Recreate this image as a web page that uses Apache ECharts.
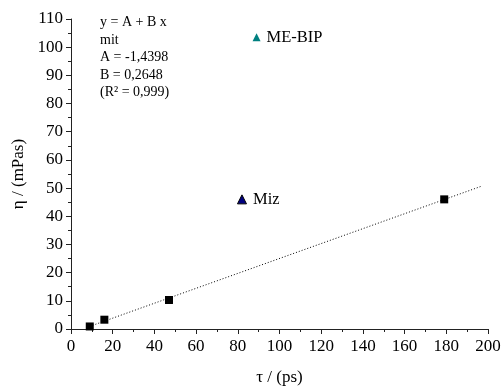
<!DOCTYPE html>
<html><head><meta charset="utf-8">
<script src="https://cdn.jsdelivr.net/npm/echarts@6/dist/echarts.min.js"></script>
<style>html,body{margin:0;padding:0;background:#fff}#c{width:501px;height:387px}</style>
</head><body><div id="c"></div>
<script>
const squarePoints = [[9, 0.9], [16, 3.3], [47, 10.3], [179, 46]];
const mizPoint = [[82, 46]];
const mebipPoint = [[89, 103.5]];
const fitLine = [[9, 0.94], [197, 50.7]];
const fitText = ['y = A + B x', 'mit', 'A = -1,4398', 'B = 0,2648', '(R\u00b2 = 0,999)'];
const xName = '\u03c4 / (ps)';
const yName = '\u03b7 / (mPas)';
const font = 'Liberation Serif, Times New Roman, serif';

const chart = echarts.init(document.getElementById('c'));
const axisCommon = {
  axisLine: {show: true, lineStyle: {color: '#222', width: 1}},
  axisTick: {show: true, inside: false, length: 5, lineStyle: {color: '#222'}},
  minorTick: {show: true, splitNumber: 2, length: 3, lineStyle: {color: '#222'}},
  splitLine: {show: false},
  axisLabel: {color: '#000', fontFamily: font, fontSize: 17},
  nameTextStyle: {color: '#000', fontFamily: font, fontSize: 17}
};
chart.setOption({
  animation: false,
  grid: {left: 71, right: 13, top: 19, bottom: 58, containLabel: false, outerBoundsMode: 'none'},
  xAxis: Object.assign({}, axisCommon, {
    type: 'value', min: 0, max: 200, interval: 20,
    name: xName, nameLocation: 'middle', nameGap: 40,
    axisLabel: Object.assign({}, axisCommon.axisLabel, {margin: 9})
  }),
  yAxis: Object.assign({}, axisCommon, {
    type: 'value', min: 0, max: 110, interval: 10,
    name: yName, nameLocation: 'middle', nameGap: 40,
    axisLabel: Object.assign({}, axisCommon.axisLabel, {margin: 8})
  }),
  graphic: [{
    type: 'text', left: 100, top: 14,
    style: {text: fitText.join('\n'), fontFamily: font, fontSize: 14, lineHeight: 17.5, fill: '#000'}
  }],
  series: [
    {type: 'line', data: fitLine, symbol: 'none', lineStyle: {color: '#000', width: 1, type: [1, 2]}, z: 1},
    {type: 'scatter', data: squarePoints, symbol: 'rect', symbolSize: 8, itemStyle: {color: '#000', opacity: 1}, z: 3},
    {type: 'scatter', data: mizPoint, symbol: 'triangle', symbolSize: 9,
      itemStyle: {color: '#000080', borderColor: '#000', borderWidth: 1, opacity: 1}, z: 3,
      label: {show: true, position: 'right', distance: 6, formatter: 'Miz', color: '#000', fontFamily: font, fontSize: 16.5}},
    {type: 'scatter', data: mebipPoint, symbol: 'triangle', symbolSize: 8,
      itemStyle: {color: '#008080', opacity: 1}, z: 3,
      label: {show: true, position: 'right', distance: 6, formatter: 'ME-BIP', color: '#000', fontFamily: font, fontSize: 16.5}}
  ]
});
</script></body></html>
